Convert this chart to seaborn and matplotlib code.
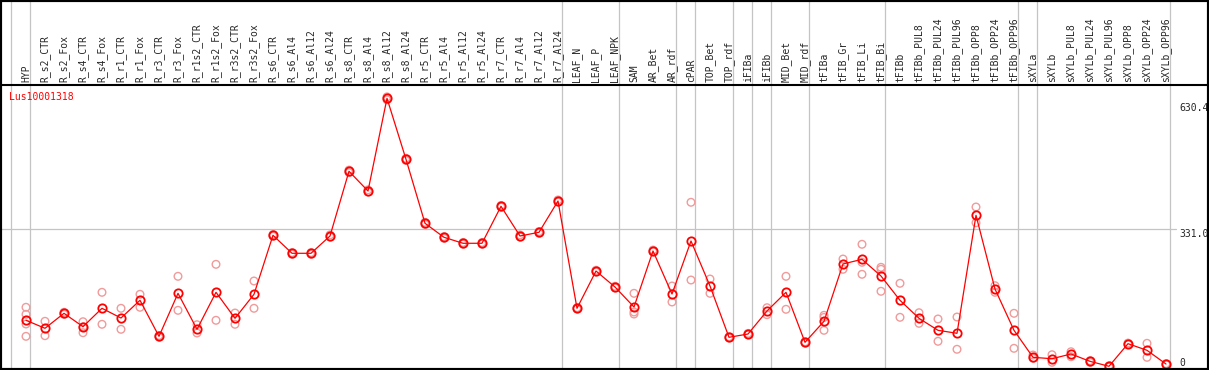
import matplotlib
matplotlib.use("Agg")
import matplotlib.pyplot as plt
import seaborn as sns
import pandas as pd

# sample columns (left to right)
samples = [
    "HYP", "R_s2_CTR", "R_s2_Fox", "R_s4_CTR", "R_s4_Fox", "R_r1_CTR", "R_r1_Fox",
    "R_r3_CTR", "R_r3_Fox", "R_r1s2_CTR", "R_r1s2_Fox", "R_r3s2_CTR", "R_r3s2_Fox",
    "R_s6_CTR", "R_s6_Al4", "R_s6_Al12", "R_s6_Al24", "R_s8_CTR", "R_s8_Al4",
    "R_s8_Al12", "R_s8_Al24", "R_r5_CTR", "R_r5_Al4", "R_r5_Al12", "R_r5_Al24",
    "R_r7_CTR", "R_r7_Al4", "R_r7_Al12", "R_r7_Al24", "LEAF_N", "LEAF_P", "LEAF_NPK",
    "SAM", "AR_Bet", "AR_rdf", "cPAR", "TOP_Bet", "TOP_rdf", "iFIBa", "iFIBb",
    "MID_Bet", "MID_rdf", "tFIBa", "tFIB_Gr", "tFIB_Li", "tFIB_Bi", "tFIBb",
    "tFIBb_PUL8", "tFIBb_PUL24", "tFIBb_PUL96", "tFIBb_OPP8", "tFIBb_OPP24",
    "tFIBb_OPP96", "sXYLa", "sXYLb", "sXYLb_PUL8", "sXYLb_PUL24", "sXYLb_PUL96",
    "sXYLb_OPP8", "sXYLb_OPP24", "sXYLb_OPP96",
]

# mean expression per sample
means = [
    114.1, 95.1, 130.7, 98.9, 142.6, 119.5, 161.6, 76.0, 178.2, 92.7, 180.6, 118.8,
    175.9, 316.1, 273.3, 273.3, 314.4, 468.2, 421.3, 641.6, 496.7, 344.6, 311.3,
    297.1, 297.1, 385.0, 314.4, 323.2, 397.6, 142.6, 231.2, 193.2, 145.7, 278.8,
    176.6, 302.5, 195.6, 73.7, 81.5, 136.2, 180.6, 61.8, 111.7, 247.9, 259.0,
    219.3, 161.6, 118.8, 90.3, 83.2, 363.6, 188.4, 90.3, 26.1, 22.8, 34.0, 16.6,
    4.8, 58.5, 42.8, 10.2,
]

# biological replicates per sample
replicates = [
    [145.0, 128.3, 105.3, 76.0], [111.7, 77.5], [133.1, 128.3], [110.7, 98.5, 84.6],
    [180.6, 104.6], [142.6, 92.7], [175.9, 145.0], [74.0, 78.0], [218.6, 137.8],
    [103.6, 83.9], [247.1, 114.1], [131.4, 104.6], [207.5, 142.6], [314.0, 318.0],
    [271.0, 275.0], [271.0, 275.0], [312.0, 317.0], [465.0, 471.0], [419.0, 424.0],
    [638.0, 645.0], [494.0, 499.0], [342.0, 347.0], [309.0, 313.0], [295.0, 299.0],
    [295.0, 299.0], [383.0, 387.0], [312.0, 317.0], [321.0, 325.0], [395.0, 400.0],
    [141.0, 144.0], [229.0, 233.0], [191.0, 195.0], [178.2, 133.8, 129.0],
    [277.0, 281.0], [195.6, 157.6], [394.5, 209.8], [212.2, 178.2], [72.0, 75.0],
    [80.0, 83.0], [144.0, 127.4], [218.6, 140.2], [60.0, 63.0], [125.9, 121.0, 90.3],
    [259.7, 235.3], [294.7, 251.9, 223.4], [240.0, 235.3, 183.0], [202.0, 121.2],
    [132.1, 106.9], [117.2, 64.2], [121.9, 45.2], [383.3, 346.0], [196.3, 180.6],
    [130.7, 47.5], [31.6, 23.8], [32.3, 14.3], [39.4, 27.6], [18.1, 14.3],
    [3.0, 6.0], [57.0, 60.0], [59.4, 26.1], [9.0, 11.0],
]

# last column of each tissue group (grey separators)
group_ends = [-1, 0, 28, 31, 34, 35, 37, 38, 39, 41, 45, 52, 53, 60]

gene = "Lus10001318"
ytick_vals = [0, 331.0, 630.4]
ytick_labels = ["0", "331.0", "630.4"]

mean_df = pd.DataFrame({"pos": range(len(samples)), "value": means})
rep_df = pd.DataFrame(
    [(i, v) for i, reps in enumerate(replicates) for v in reps],
    columns=["pos", "value"],
)

sns.set_style("white")
plt.rcParams["font.family"] = ["DejaVu Sans Mono", "DejaVu Sans"]

W, H = 1209, 370
fig = plt.figure(figsize=(W / 100, H / 100), dpi=100)
header = 85
ax = fig.add_axes([0, 0, 1, (H - header) / H])

grey = "#c4c4c4"
top_ext = 1 + header / (H - header)
for g in group_ends:
    ax.axvline(g + 4 / 19, ymin=0, ymax=top_ext, color=grey, lw=0.9,
               clip_on=False, zorder=0)
ax.axhline(331.0, xmin=0, xmax=0.973, color=grey, lw=0.9, zorder=0)

sns.scatterplot(data=rep_df, x="pos", y="value", ax=ax, marker="o", s=30,
                facecolor="none", edgecolor="#f19a9a", linewidth=1.0, zorder=2)
sns.lineplot(data=mean_df, x="pos", y="value", ax=ax, estimator=None,
             color="red", lw=0.9, marker="o", markersize=6,
             markerfacecolor="none", markeredgecolor="red", markeredgewidth=1.3,
             zorder=3)

ax.set_xlim(-26 / 19, (W - 26) / 19)
ax.set_ylim(-4.0, 673.2)

ax.set_xticks(range(len(samples)))
ax.set_xticklabels(samples, rotation=90, fontsize=7)
ax.tick_params(axis="x", top=True, bottom=False, labeltop=True,
               labelbottom=False, length=0, pad=2)

ax.yaxis.tick_right()
ax.set_yticks(ytick_vals)
ax.set_yticklabels(ytick_labels, fontsize=7)
ax.tick_params(axis="y", length=0, pad=-21)
for lab, v in zip(ax.get_yticklabels(), ytick_vals):
    lab.set_va("bottom" if v == 0 else "top")

ax.set_xlabel("")
ax.set_ylabel("")
for side in ["left", "right", "bottom"]:
    ax.spines[side].set_visible(False)
ax.spines["top"].set_color("black")
ax.spines["top"].set_linewidth(1.5)

ax.text(9 / W, (H - header - 12) / (H - header), gene, transform=ax.transAxes,
        color="red", fontsize=7, va="center", ha="left")

fig.add_artist(plt.Rectangle((0, 0), 1, 1, transform=fig.transFigure,
                             fill=False, ec="black", lw=3))

fig.savefig("out.png", dpi=100)
